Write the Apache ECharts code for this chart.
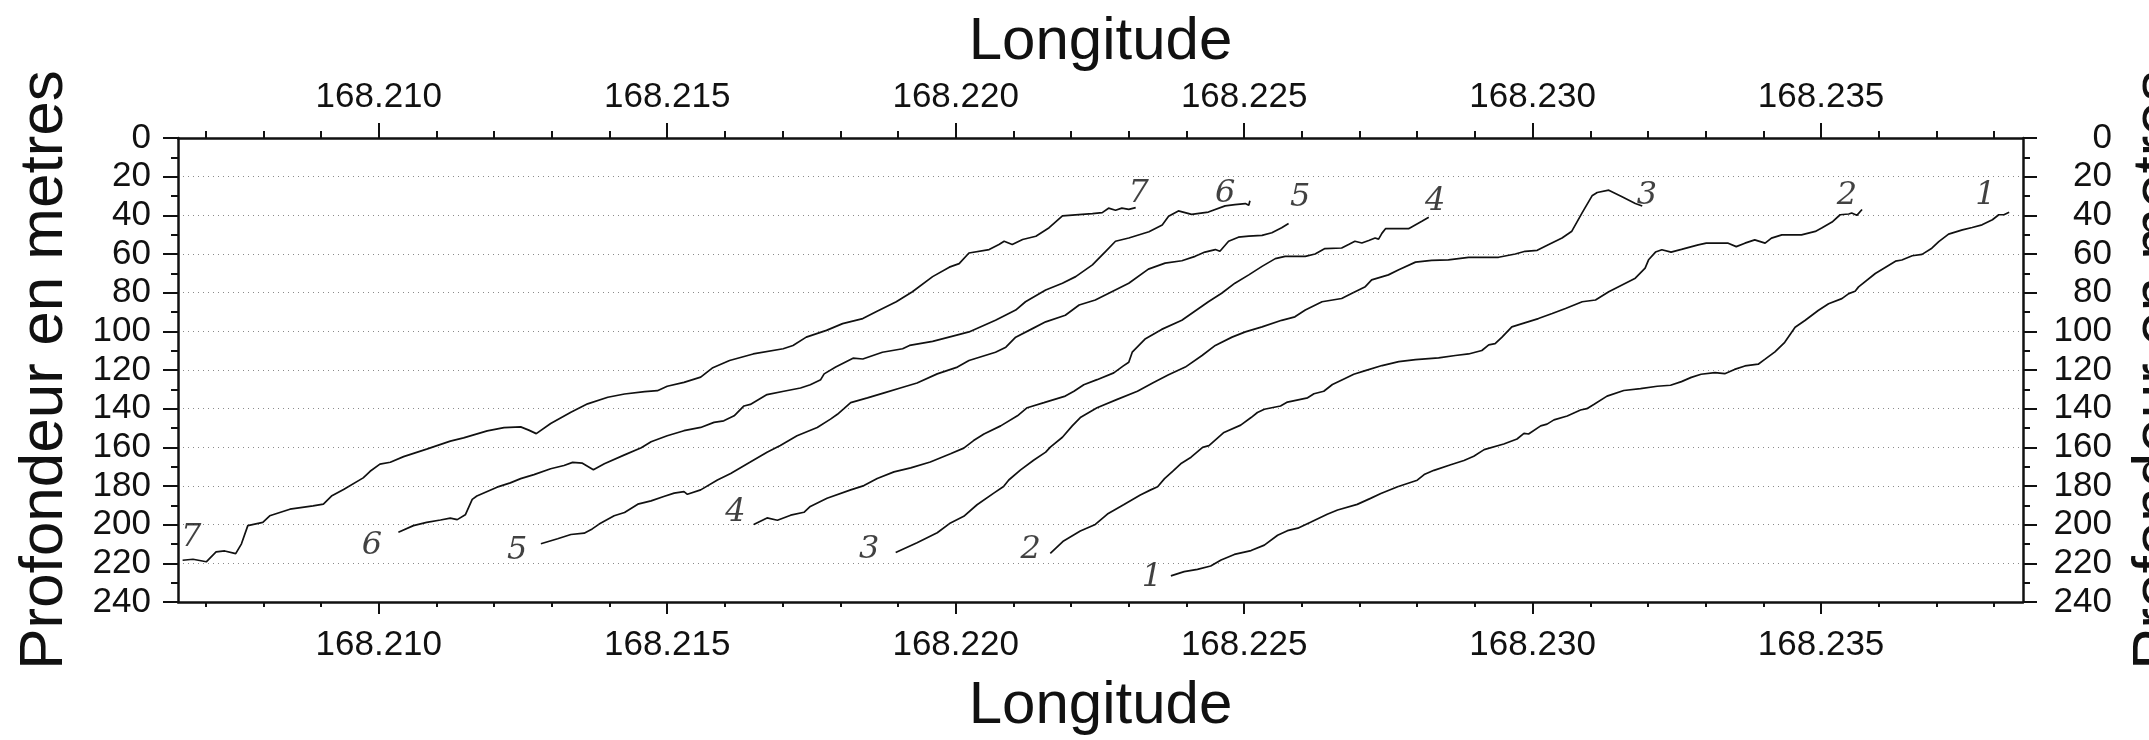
<!DOCTYPE html>
<html>
<head>
<meta charset="utf-8">
<script src="https://cdn.jsdelivr.net/npm/echarts@6/dist/echarts.min.js"></script>
<style>html,body{margin:0;padding:0;background:#fff;}#c{width:2149px;height:740px;}</style>
</head>
<body>
<div id="c"></div>
<script>
const X_MIN = 168.20652, X_MAX = 168.2385;
const xMajorTicks = [168.210, 168.215, 168.220, 168.225, 168.230, 168.235];
const xMinorTicks = [168.207,168.208,168.209,168.210,168.211,168.212,168.213,168.214,168.215,168.216,168.217,168.218,168.219,168.220,168.221,168.222,168.223,168.224,168.225,168.226,168.227,168.228,168.229,168.230,168.231,168.232,168.233,168.234,168.235,168.236,168.237,168.238];

const line7 = [[168.20660,218.4],[168.20678,217.9],[168.20701,219.2],[168.20718,214.1],[168.20733,213.6],[168.20752,215.0],[168.20762,209.9],[168.20773,200.5],[168.20799,198.8],[168.20811,195.4],[168.20846,192.0],[168.20886,190.3],[168.20904,189.4],[168.20918,185.2],[168.20939,181.8],[168.20973,175.8],[168.20985,172.4],[168.21002,168.7],[168.21020,167.7],[168.21043,164.8],[168.21083,160.9],[168.21124,156.8],[168.21147,155.1],[168.21188,151.5],[168.21217,149.8],[168.21246,149.4],[168.21260,151.1],[168.21273,152.9],[168.21298,147.7],[168.21333,141.8],[168.21362,137.5],[168.21397,134.1],[168.21426,132.4],[168.21461,131.2],[168.21483,130.7],[168.21500,128.4],[168.21529,126.4],[168.21558,123.7],[168.21578,119.0],[168.21608,115.1],[168.21649,111.7],[168.21701,109.0],[168.21718,107.3],[168.21741,103.0],[168.21776,99.5],[168.21804,96.0],[168.21839,93.4],[168.21862,89.9],[168.21897,84.7],[168.21925,79.5],[168.21960,71.7],[168.21989,66.8],[168.22006,65.0],[168.22023,59.5],[168.22058,57.7],[168.22075,55.1],[168.22084,53.4],[168.22098,55.1],[168.22116,52.5],[168.22139,50.8],[168.22162,46.4],[168.22185,40.3],[168.22219,39.5],[168.22237,39.1],[168.22254,38.6],[168.22265,36.3],[168.22277,37.4],[168.22288,36.3],[168.22300,36.9],[168.22312,36.0]];

const line6 = [[168.21034,203.9],[168.21060,200.5],[168.21083,198.8],[168.21107,197.6],[168.21124,196.6],[168.21136,197.4],[168.21150,194.9],[168.21162,186.9],[168.21170,185.2],[168.21205,180.6],[168.21228,178.4],[168.21246,176.2],[168.21269,174.1],[168.21298,171.1],[168.21321,169.4],[168.21336,167.8],[168.21353,168.2],[168.21372,171.6],[168.21391,168.5],[168.21426,163.9],[168.21455,160.2],[168.21472,157.1],[168.21500,154.0],[168.21529,151.4],[168.21558,149.7],[168.21581,147.1],[168.21598,146.3],[168.21616,143.7],[168.21633,138.6],[168.21644,137.8],[168.21673,132.7],[168.21702,131.0],[168.21731,129.3],[168.21748,127.6],[168.21766,125.0],[168.21772,122.0],[168.21792,118.5],[168.21822,113.9],[168.21839,114.3],[168.21873,110.8],[168.21908,109.0],[168.21920,107.3],[168.21960,105.2],[168.22000,102.1],[168.22023,100.3],[168.22069,94.3],[168.22104,89.0],[168.22121,84.7],[168.22156,78.6],[168.22185,75.1],[168.22208,71.7],[168.22237,65.6],[168.22260,58.6],[168.22277,53.4],[168.22300,51.7],[168.22335,48.5],[168.22358,45.0],[168.22369,40.5],[168.22386,37.7],[168.22409,39.5],[168.22438,38.3],[168.22467,35.1],[168.22484,34.5],[168.22502,33.9],[168.22508,34.8],[168.22510,32.5]];

const line5 = [[168.21281,209.9],[168.21310,207.3],[168.21333,205.1],[168.21356,204.4],[168.21370,202.2],[168.21382,199.7],[168.21408,195.4],[168.21426,193.7],[168.21449,189.4],[168.21472,187.7],[168.21494,185.4],[168.21512,183.7],[168.21529,182.9],[168.21535,184.3],[168.21558,182.0],[168.21587,176.9],[168.21610,173.5],[168.21644,167.6],[168.21673,162.5],[168.21696,159.1],[168.21725,154.0],[168.21760,149.7],[168.21783,145.4],[168.21795,142.9],[168.21818,136.9],[168.21847,134.4],[168.21876,131.8],[168.21904,129.3],[168.21933,126.7],[168.21968,122.0],[168.22003,118.5],[168.22023,115.1],[168.22069,110.8],[168.22087,108.2],[168.22104,103.0],[168.22133,98.6],[168.22156,95.1],[168.22190,91.7],[168.22214,86.4],[168.22242,83.8],[168.22300,75.1],[168.22334,67.8],[168.22363,64.7],[168.22392,63.5],[168.22415,61.2],[168.22432,59.0],[168.22450,57.7],[168.22458,58.6],[168.22473,53.4],[168.22490,51.3],[168.22508,50.8],[168.22531,50.4],[168.22548,49.0],[168.22565,46.4],[168.22577,44.2]];

const line4 = [[168.21650,199.9],[168.21673,196.5],[168.21691,197.7],[168.21714,195.1],[168.21737,193.6],[168.21748,190.6],[168.21777,186.3],[168.21818,182.0],[168.21841,179.8],[168.21864,176.1],[168.21893,172.7],[168.21922,170.6],[168.21956,167.6],[168.21991,163.3],[168.22014,160.4],[168.22031,156.5],[168.22049,153.1],[168.22078,148.9],[168.22107,143.7],[168.22124,139.5],[168.22153,136.9],[168.22190,133.5],[168.22205,131.0],[168.22222,127.6],[168.22245,125.0],[168.22274,121.5],[168.22290,118.0],[168.22300,116.0],[168.22306,110.8],[168.22329,103.8],[168.22357,99.0],[168.22392,94.3],[168.22438,84.7],[168.22461,80.3],[168.22484,75.1],[168.22508,70.8],[168.22531,66.4],[168.22554,62.4],[168.22571,61.2],[168.22606,61.2],[168.22623,60.0],[168.22640,57.2],[168.22669,56.9],[168.22681,55.1],[168.22692,53.4],[168.22704,54.3],[168.22716,53.0],[168.22727,51.7],[168.22733,52.3],[168.22739,49.2],[168.22745,46.9],[168.22785,46.9],[168.22808,43.1],[168.22820,41.0]];

const line3 = [[168.21896,214.4],[168.21933,209.3],[168.21968,204.2],[168.21991,199.1],[168.22014,195.7],[168.22037,189.7],[168.22066,183.7],[168.22083,180.3],[168.22092,176.9],[168.22112,171.8],[168.22135,166.7],[168.22156,162.5],[168.22164,159.9],[168.22185,154.8],[168.22202,148.9],[168.22216,144.6],[168.22245,139.5],[168.22280,135.2],[168.22315,131.0],[168.22343,126.5],[168.22369,122.5],[168.22398,118.5],[168.22427,112.5],[168.22450,107.3],[168.22479,103.0],[168.22502,100.3],[168.22531,97.7],[168.22565,94.3],[168.22588,92.5],[168.22606,89.0],[168.22635,84.7],[168.22669,83.0],[168.22687,80.3],[168.22710,76.9],[168.22721,73.4],[168.22750,70.8],[168.22768,68.2],[168.22797,64.2],[168.22825,63.3],[168.22854,63.0],[168.22889,61.7],[168.22941,61.7],[168.22970,60.0],[168.22987,58.6],[168.23008,58.1],[168.23028,55.1],[168.23051,51.7],[168.23068,48.2],[168.23086,38.6],[168.23103,29.9],[168.23112,28.2],[168.23132,27.0],[168.23155,30.4],[168.23178,33.9],[168.23190,35.2]];

const line2 = [[168.22164,214.9],[168.22187,208.4],[168.22216,203.3],[168.22242,199.9],[168.22263,194.5],[168.22291,189.7],[168.22320,184.6],[168.22338,182.0],[168.22350,180.4],[168.22362,176.2],[168.22376,172.4],[168.22390,168.5],[168.22408,165.1],[168.22428,160.0],[168.22439,159.1],[168.22465,152.3],[168.22494,148.5],[168.22512,144.6],[168.22523,142.0],[168.22535,140.3],[168.22563,138.6],[168.22575,136.6],[168.22610,134.4],[168.22621,132.3],[168.22638,131.0],[168.22653,127.5],[168.22673,124.6],[168.22690,122.2],[168.22710,120.3],[168.22739,117.7],[168.22768,115.7],[168.22797,114.6],[168.22837,113.7],[168.22866,112.5],[168.22889,111.7],[168.22912,109.9],[168.22924,107.0],[168.22935,106.4],[168.22947,103.0],[168.22964,97.7],[168.22982,96.0],[168.23010,93.4],[168.23034,90.8],[168.23057,88.2],[168.23086,84.7],[168.23109,83.8],[168.23132,79.5],[168.23155,76.0],[168.23178,72.5],[168.23195,67.3],[168.23201,63.0],[168.23213,59.0],[168.23224,57.8],[168.23240,59.0],[168.23258,57.6],[168.23287,55.3],[168.23301,54.4],[168.23339,54.4],[168.23353,56.2],[168.23368,54.4],[168.23385,52.7],[168.23403,54.4],[168.23414,51.8],[168.23432,50.1],[168.23466,50.1],[168.23490,48.3],[168.23501,46.6],[168.23519,43.5],[168.23533,39.7],[168.23548,39.3],[168.23553,38.8],[168.23562,40.0],[168.23571,37.0]];

const line1 = [[168.22373,226.5],[168.22396,224.3],[168.22419,223.1],[168.22442,221.4],[168.22460,218.3],[168.22483,215.4],[168.22512,213.4],[168.22535,210.6],[168.22558,205.5],[168.22575,203.1],[168.22593,201.8],[168.22615,198.7],[168.22644,194.6],[168.22662,192.4],[168.22696,189.5],[168.22719,186.4],[168.22737,183.9],[168.22766,180.4],[168.22800,177.0],[168.22812,174.1],[168.22829,171.9],[168.22858,169.0],[168.22881,166.8],[168.22898,164.6],[168.22916,161.2],[168.22950,158.3],[168.22973,155.7],[168.22985,152.8],[168.22993,153.1],[168.23014,148.9],[168.23025,148.0],[168.23037,145.8],[168.23060,143.8],[168.23083,140.7],[168.23094,140.0],[168.23106,137.8],[168.23129,133.5],[168.23158,130.6],[168.23187,129.6],[168.23216,128.4],[168.23239,127.9],[168.23258,126.0],[168.23275,123.8],[168.23292,122.2],[168.23316,121.4],[168.23333,121.9],[168.23350,119.7],[168.23368,117.9],[168.23391,117.0],[168.23403,114.4],[168.23420,110.6],[168.23437,105.7],[168.23455,97.9],[168.23472,94.4],[168.23495,89.2],[168.23513,85.7],[168.23536,83.1],[168.23548,80.5],[168.23559,79.3],[168.23565,77.0],[168.23594,70.1],[168.23629,63.7],[168.23640,63.1],[168.23658,60.9],[168.23675,60.2],[168.23692,57.0],[168.23704,53.6],[168.23721,49.7],[168.23745,47.5],[168.23762,46.3],[168.23779,44.9],[168.23797,42.3],[168.23808,39.7],[168.23817,39.7],[168.23826,38.4]];

const profileNames = ['1','2','3','4','5','6','7'];
const profileLines = [line1, line2, line3, line4, line5, line6, line7];
const labelNames = ['7','7','6','6','5','5','4','4','3','3','2','2','1','1'];
const labelPos = [[168.20675,206.5],[168.22317,29],[168.20988,210.7],[168.22467,29],[168.21240,213.3],[168.22597,31],[168.21618,194],[168.22831,33],[168.21850,212.7],[168.23198,30],[168.22130,212.7],[168.23545,30],[168.22340,227.5],[168.23785,30]];

const FONT = 'Liberation Sans, Arial, Helvetica, sans-serif';
const axisLineStyle = { color: '#111', width: 2.5 };

function xAxisMain(pos, tickLen, labelMargin, nameGap) {
  return {
    type: 'value', position: pos, min: X_MIN, max: X_MAX, gridIndex: 0,
    axisLine: { show: true, onZero: false, lineStyle: axisLineStyle },
    axisTick: { show: true, inside: false, length: tickLen, customValues: xMajorTicks, lineStyle: { color: '#111', width: 2 } },
    axisLabel: { show: true, customValues: xMajorTicks, formatter: v => v.toFixed(3), fontFamily: FONT, fontSize: 35, color: '#111', margin: labelMargin },
    splitLine: { show: false },
    name: 'Longitude', nameLocation: 'middle', nameGap: nameGap,
    nameTextStyle: { fontFamily: FONT, fontSize: 60, color: '#111' }
  };
}
function xAxisMinor(pos, tickLen) {
  return {
    type: 'value', position: pos, min: X_MIN, max: X_MAX, gridIndex: 0,
    axisLine: { show: false, onZero: false },
    axisTick: { show: true, inside: false, length: tickLen, customValues: xMinorTicks, lineStyle: { color: '#111', width: 2 } },
    axisLabel: { show: false },
    splitLine: { show: false }
  };
}
function yAxisDef(pos, margin, align, nameGap, tickLen) {
  return {
    type: 'value', position: pos, inverse: true, min: 0, max: 240, interval: 20, gridIndex: 0,
    axisLine: { show: true, onZero: false, lineStyle: axisLineStyle },
    axisTick: { show: true, inside: false, length: tickLen, lineStyle: { color: '#111', width: 2 } },
    minorTick: { show: true, splitNumber: 2, length: 7, lineStyle: { color: '#111', width: 2 } },
    axisLabel: { show: true, fontFamily: FONT, fontSize: 35, color: '#111', margin: margin, align: align },
    splitLine: { show: pos === 'left', lineStyle: { color: '#8a8a8a', width: 1, type: [1, 4] } },
    name: 'Profondeur en metres', nameLocation: 'middle', nameRotate: 90, nameGap: nameGap,
    nameTextStyle: { fontFamily: FONT, fontSize: 62, color: '#111' }
  };
}

const series = profileLines.map((d, i) => ({
  type: 'line', name: 'Profil ' + profileNames[i], data: d, xAxisIndex: 0, yAxisIndex: 0,
  showSymbol: false, symbol: 'none', smooth: false,
  lineStyle: { color: '#111', width: 1.7 }, z: 3
}));
series.push({
  type: 'scatter', xAxisIndex: 0, yAxisIndex: 0, symbolSize: 0, z: 4,
  data: labelPos.map((p, i) => ({ value: p, name: labelNames[i] })),
  label: { show: true, position: 'inside', formatter: p => p.name,
    fontFamily: 'DejaVu Serif, serif', fontStyle: 'italic', fontSize: 32, color: '#111' }
});

const chart = echarts.init(document.getElementById('c'), null, { renderer: 'canvas' });
chart.setOption({
  animation: false,
  backgroundColor: '#ffffff',
  grid: { left: 178, top: 138, right: 126, bottom: 138, containLabel: false, outerBoundsMode: 'none' },
  xAxis: [
    xAxisMain('bottom', 12, 26, 74),
    xAxisMain('top', 15, 23, 66),
    xAxisMinor('bottom', 5),
    xAxisMinor('top', 7)
  ],
  yAxis: [
    yAxisDef('left', 27, 'right', 102, 15),
    yAxisDef('right', 89, 'right', 104, 14)
  ],
  series: series
});
</script>
</body>
</html>
